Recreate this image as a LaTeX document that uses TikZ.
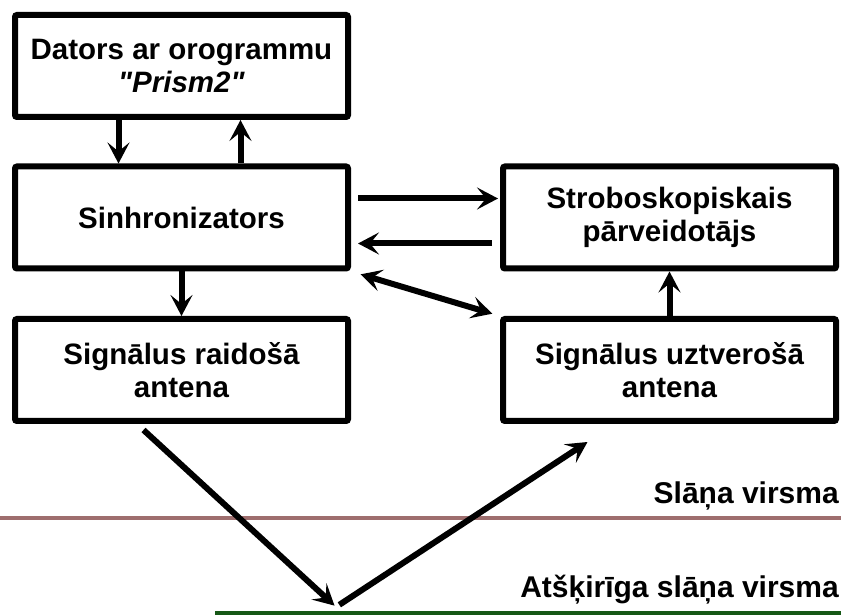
\documentclass[tikz,border=0pt]{standalone}
\usepackage{fontspec}
\setmainfont{Liberation Sans}
\usetikzlibrary{arrows.meta, positioning}
\definecolor{layerbrown}{RGB}{158,110,110}
\definecolor{layergreen}{RGB}{22,88,22}
\tikzstyle{box} = [rectangle, rounded corners=2pt,
minimum width=333pt,
minimum height=102pt,
align=center,
draw=black,
line width=6pt,
fill=white,
font=\fontsize{29.5}{33}\selectfont\bfseries]
\tikzstyle{arrow} = [-{Stealth[length=21pt, width=22pt, inset=9pt]}, line width=6pt]
\tikzstyle{dblarrow} = [{Stealth[length=21pt, width=22pt, inset=9pt]}-{Stealth[length=21pt, width=22pt, inset=9pt]}, line width=6pt]
\tikzstyle{surface} = [line width=4pt]
\tikzstyle{surftext} = [anchor=east, inner sep=0pt, font=\fontsize{30}{33}\selectfont\bfseries]

\begin{document}
\begin{tikzpicture}[x=1pt, y=1pt]
				
				% canvas of the reference size
				\useasboundingbox (0,0) rectangle (841,615);
				
				% Layer surfaces
				\draw[surface, draw=layerbrown] (0,97) -- (841,97);
				\draw[surface, draw=layergreen] (215,2) -- (841,2);
				\node[surftext] (upper) at (839,119) {Slāņa virsma};
				\node[surftext] (lower) at (839,25) {Atšķirīga slāņa virsma};
				
				\node[box] (comp) at (181.5,549) {Dators ar orogrammu \\ \textit{\textquotedbl Prism2\textquotedbl}};
				\node[box] (sync) at ([xshift=0pt, yshift=-151.5pt]comp.center) {Sinhronizators};
				\node[box] (strob) at ([xshift=488pt, yshift=0pt]sync.center) {Stroboskopiskais \\ pārveidotājs};
				\node[box] (tx) at ([xshift=0pt, yshift=-152.5pt]sync.center) {Signālus raidošā \\ antena};
				\node[box] (rx) at ([xshift=488pt, yshift=0pt]tx.center) {Signālus uztverošā \\ antena};
				
				\coordinate (emit) at ([xshift=-38pt, yshift=-6pt]tx.south);
				\coordinate (bounce) at (336,8);
				\coordinate (catch) at ([xshift=-82pt, yshift=-18pt]rx.south);
				
				% Edges
				\draw[arrow] ([xshift=-63pt]comp.south) -- ([xshift=-63pt]sync.north);
				\draw[arrow] ([xshift=59pt]sync.north) -- ([xshift=59pt]comp.south);
				\draw[arrow, shorten <=7pt, shorten >=2pt] ([yshift=19pt]sync.east) -- ([yshift=19pt]strob.west);
				\draw[arrow, shorten <=8pt, shorten >=7pt] ([yshift=-26pt]strob.west) -- ([yshift=-26pt]sync.east);
				\draw[dblarrow, shorten <=10pt, shorten >=8pt] (sync.south east) -- (rx.north west);
				\draw[arrow] (sync) -- (tx);
				\draw[arrow] (rx) -- (strob);
				\draw[arrow, shorten >=2pt] (emit) -- (bounce);
				\draw[arrow, shorten <=4pt] (bounce) -- (catch);
				
			\end{tikzpicture}
\end{document}
